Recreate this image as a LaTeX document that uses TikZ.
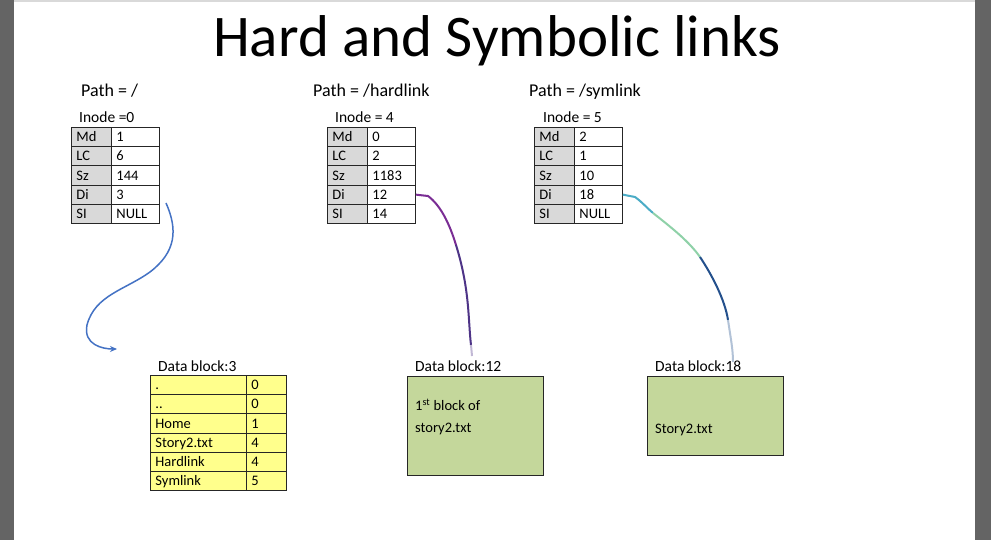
\documentclass[tikz,border=0pt]{standalone}
\usepackage{fontspec}
\setmainfont{Carlito}
\usetikzlibrary{arrows.meta,positioning}
\definecolor{keygray}{HTML}{D9D9D9}
\definecolor{diryellow}{HTML}{FFFF8C}
\definecolor{blockgreen}{HTML}{C4D79B}
\definecolor{linkblue}{HTML}{4472C4}
\definecolor{hardpurple}{HTML}{7A2D94}
\definecolor{harddark}{HTML}{4E3487}
\definecolor{symcyan}{HTML}{4BACC6}
\definecolor{symgreen}{HTML}{8FD1A8}
\definecolor{symdark}{HTML}{24508C}
\definecolor{barcol}{HTML}{646464}
\begin{document}
\begin{tikzpicture}[x=1pt,y=-1pt,
  cell/.style={draw=black!85,line width=0.9pt,anchor=north west,minimum height=19.2pt,
    inner xsep=5pt,inner ysep=0pt,text height=11pt,text depth=1.5pt,align=left,
    font=\fontsize{14.5}{16}\selectfont},
  key/.style={cell,fill=keygray,text width=31pt},
  val/.style={cell,fill=white,text width=38pt},
  dkey/.style={cell,fill=diryellow,text width=86pt,inner xsep=5pt},
  dval/.style={cell,fill=diryellow,text width=30pt},
  block/.style={draw=black!85,line width=0.9pt,fill=blockgreen,anchor=north west},
  lbl/.style={anchor=base west,inner sep=0pt}]
\useasboundingbox (0,0) rectangle (991,540);
\fill[white] (0,0) rectangle (991,540);
\fill[barcol] (0,0) rectangle (14,540);
\fill[barcol] (975,0) rectangle (991,540);
\fill[black!15] (14,0) rectangle (975,2.5);
% title and paths
\node[lbl,font=\fontsize{59}{62}\selectfont] (title) at (213,57) {Hard and Symbolic links};
\node[lbl,font=\fontsize{18}{20}\selectfont] (p0) at (81,97) {Path = /};
\node[lbl,font=\fontsize{18}{20}\selectfont] (p4) at (313,97) {Path = /hardlink};
\node[lbl,font=\fontsize{18}{20}\selectfont] (p5) at (529,97) {Path = /symlink};
% inodes
\node[lbl,font=\fontsize{15.5}{17}\selectfont] (n0) at (79,123) {Inode =0};
\node[lbl,font=\fontsize{15.5}{17}\selectfont] (n4) at (335,123) {Inode = 4};
\node[lbl,font=\fontsize{15.5}{17}\selectfont] (n5) at (543,123) {Inode = 5};
\foreach \k/\v [count=\i from 0] in {Md/1,LC/6,Sz/144,Di/3,SI/NULL} {
  \node[key] (i0k\i) at (71,127+19.2*\i) {\k};
  \node[val] (i0v\i) at (111,127+19.2*\i) {\v};
}
\foreach \k/\v [count=\i from 0] in {Md/0,LC/2,Sz/1183,Di/12,SI/14} {
  \node[key] (i4k\i) at (327,127+19.2*\i) {\k};
  \node[val] (i4v\i) at (367,127+19.2*\i) {\v};
}
\foreach \k/\v [count=\i from 0] in {Md/2,LC/1,Sz/10,Di/18,SI/NULL} {
  \node[key] (i5k\i) at (534,127+19.2*\i) {\k};
  \node[val] (i5v\i) at (574,127+19.2*\i) {\v};
}
% data blocks
\node[lbl,font=\fontsize{15.5}{17}\selectfont] (d3l) at (158,371) {Data block:3};
\foreach \k/\v [count=\i from 0] in {./0,../0,Home/1,Story2.txt/4,Hardlink/4,Symlink/5} {
  \node[dkey] (d3k\i) at (150,375+19.17*\i) {\k};
  \node[dval] (d3v\i) at (246,375+19.17*\i) {\v};
}
\node[lbl,font=\fontsize{15.5}{17}\selectfont] (d12l) at (415,371) {Data block:12};
\node[block,minimum width=136pt,minimum height=99pt] (d12) at (407,376) {};
\node[anchor=west,inner xsep=0pt,align=left,font=\fontsize{14.5}{22}\selectfont] (d12t) at (415,417)
  {1\textsuperscript{st} block of\\story2.txt};
\node[lbl,font=\fontsize{15.5}{17}\selectfont] (d18l) at (655,371) {Data block:18};
\node[block,minimum width=136pt,minimum height=79pt] (d18) at (647,376) {};
\node[lbl,font=\fontsize{14.5}{16}\selectfont] (d18t) at (655,433) {Story2.txt};
% links
\coordinate (a0) at (166,203);
\coordinate (a1) at (117,349);
\draw[linkblue,line width=1.5pt,-{Stealth[length=7pt,width=6pt]}] (a0)
  .. controls (178,230) and (176,252) .. (150,272)
  .. controls (125,290) and (95,295) .. (87,325)
  .. controls (83,345) and (103,349) .. (a1);
\coordinate (h1) at (456,245);
\coordinate (h2) at (472,356);
\draw[hardpurple,line width=2pt] (i4v3.east) -- (428,196) .. controls (440,205) and (449,222) .. (h1);
\draw[harddark,line width=2pt] (h1) .. controls (470,290) and (468,320) .. (471,345);
\draw[harddark!35,line width=2pt] (471,345) -- (h2);
\coordinate (s1) at (653,213);
\coordinate (s2) at (700,257);
\coordinate (s3) at (728,320);
\coordinate (s4) at (733,362);
\draw[symcyan,line width=2pt] (i5v3.east) -- (635,197) .. controls (642,202) and (647,208) .. (s1);
\draw[symgreen,line width=2pt] (s1) .. controls (668,225) and (688,240) .. (s2);
\draw[symdark,line width=2pt] (s2) .. controls (712,275) and (725,300) .. (s3);
\draw[symdark!35,line width=2pt] (s3) .. controls (731,340) and (733,350) .. (s4);
\end{tikzpicture}
\end{document}
